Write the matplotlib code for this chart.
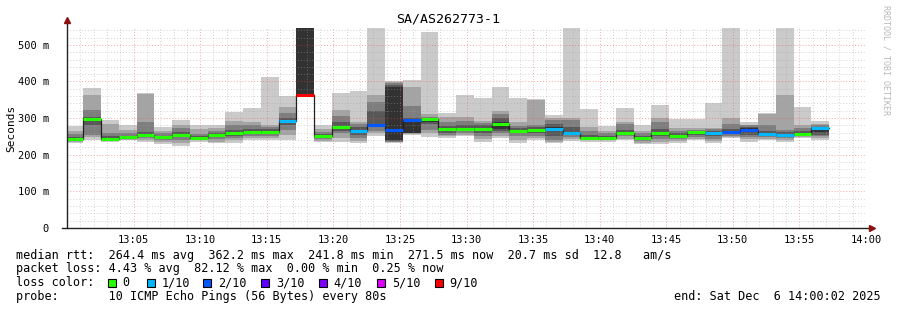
import matplotlib
matplotlib.use('Agg')
import matplotlib.pyplot as plt
from matplotlib.patches import Rectangle
from matplotlib.ticker import MultipleLocator, FixedLocator
import numpy as np

# ---- data ----
title = 'SA/AS262773-1'
first_start = -0.11          # minutes after 13:00 of the first 80s sample
step_min = 80 / 60.0

# sorted ping rtts (ms) per sample; 600 = off the top of the graph
ping1 = [231, 240, 236, 239, 236, 229, 225, 236, 231, 231, 240, 240, 240, 363, 234, 236, 231, 250, 232, 254, 248, 245,
         250, 236, 245, 231, 240, 231, 238, 236, 236, 239, 229, 229, 233, 239, 233, 245, 236, 240, 234, 245, 240]
ping2 = [234, 248, 238, 241, 240, 234, 233, 239, 236, 240, 245, 246, 255, 363, 238, 245, 238, 258, 234, 256, 258, 250,
         255, 242, 250, 240, 245, 236, 242, 240, 239, 244, 233, 236, 238, 243, 238, 248, 242, 244, 240, 248, 245]
ping3 = [237, 254, 240, 244, 245, 240, 240, 242, 242, 246, 250, 252, 268, 363, 242, 258, 245, 265, 236, 258, 268, 254,
         260, 250, 258, 250, 250, 240, 248, 244, 242, 250, 238, 244, 242, 248, 244, 252, 248, 248, 245, 250, 250]
ping4 = [239, 280, 242, 246, 250, 245, 248, 244, 248, 252, 256, 258, 280, 363, 246, 265, 255, 275, 238, 259, 284, 258,
         264, 258, 265, 258, 258, 252, 255, 246, 244, 255, 242, 250, 246, 254, 250, 256, 255, 252, 250, 253, 255]
ping5 = [241, 295, 243, 248, 252, 247, 252, 245, 252, 257, 260, 262, 288, 363, 249, 272, 262, 280, 240, 260, 290, 264,
         268, 265, 270, 263, 264, 265, 258, 247, 246, 258, 245, 256, 250, 259, 256, 258, 262, 255, 252, 255, 262]
ping6 = [243, 301, 244, 249, 254, 249, 256, 246, 255, 261, 264, 265, 294, 600, 253, 278, 268, 284, 386, 292, 293, 272,
         272, 273, 290, 267, 270, 275, 262, 249, 248, 262, 247, 260, 252, 263, 262, 262, 272, 259, 256, 259, 268]
ping7 = [248, 304, 250, 252, 262, 252, 262, 250, 258, 268, 270, 270, 300, 600, 256, 290, 275, 320, 390, 300, 300, 278,
         280, 280, 300, 272, 276, 284, 275, 255, 252, 268, 252, 270, 258, 266, 266, 270, 276, 265, 262, 264, 275]
ping8 = [256, 322, 260, 258, 290, 258, 274, 256, 264, 280, 280, 276, 314, 600, 262, 305, 285, 345, 395, 333, 304, 290,
         292, 288, 310, 278, 281, 295, 295, 265, 258, 285, 258, 290, 265, 268, 270, 285, 280, 280, 268, 272, 280]
ping9 = [265, 363, 284, 268, 365, 266, 280, 270, 272, 293, 290, 281, 330, 600, 270, 322, 290, 363, 398, 386, 310, 302,
         302, 292, 320, 290, 350, 300, 300, 277, 265, 290, 266, 301, 272, 272, 272, 301, 282, 312, 363, 281, 283]
ping10 = [279, 382, 295, 281, 369, 276, 295, 281, 281, 317, 328, 413, 359, 600, 281, 368, 373, 600, 402, 404, 535, 315,
          362, 356, 384, 356, 352, 309, 600, 325, 279, 327, 281, 336, 297, 297, 342, 600, 290, 315, 600, 331, 292]

median = [242, 298, 243, 248, 253, 248, 254, 245, 254, 259, 262, 263, 292, 363, 251, 275, 266, 282, 267, 296, 298, 270,
          270, 270, 283, 265, 267, 270, 260, 247, 247, 260, 246, 258, 251, 261, 259, 261, 268, 257, 254, 257, 272]
# lost pings out of 10
loss = [0, 0, 0, 0, 0, 0, 0, 0, 0, 0, 0, 0, 1, 9, 0, 0, 1, 2, 2, 2, 0, 0,
        0, 0, 0, 0, 0, 1, 1, 0, 0, 0, 0, 0, 0, 0, 1, 2, 2, 1, 1, 0, 1]

loss_keys = [0, 1, 2, 3, 4, 5, 9]
loss_labels = ['0', '1/10', '2/10', '3/10', '4/10', '5/10', '9/10']
loss_colors = ['#26ff00', '#00b8ff', '#0059ff', '#5e00ff', '#7e00ff', '#dd00ff', '#ff0000']
smoke_colors = ['#cacaca', '#a4a4a4', '#7e7e7e', '#585858', '#323232']

tick_pos = [5, 10, 15, 20, 25, 30, 35, 40, 45, 50, 55, 60]
tick_lbl = ['13:05', '13:10', '13:15', '13:20', '13:25', '13:30', '13:35', '13:40', '13:45', '13:50', '13:55', '14:00']

legend_lines = [
    'median rtt:  264.4 ms avg  362.2 ms max  241.8 ms min  271.5 ms now  20.7 ms sd  12.8   am/s',
    'packet loss: 4.43 % avg  82.12 % max  0.00 % min  0.25 % now',
    'loss color:',
    'probe:       10 ICMP Echo Pings (56 Bytes) every 80s',
]
end_text = 'end: Sat Dec  6 14:00:02 2025'

# ---- plot ----
plt.rcParams['font.family'] = ['DejaVu Sans Mono']
W, H = 897, 310
fig = plt.figure(figsize=(W / 100, H / 100), dpi=100)
fig.patch.set_facecolor('white')
ax = fig.add_axes([67 / W, 1 - 228 / H, 799 / W, 200 / H])

n = len(median)
edges = first_start + step_min * np.arange(n + 1)
pings = np.array([ping1, ping2, ping3, ping4, ping5, ping6, ping7, ping8, ping9, ping10], dtype=float)

# smoke: band i spans ping(i) .. ping(11-i), darker toward the centre
for i in range(5):
    lo = pings[i]
    hi = pings[9 - i]
    ax.bar(edges[:-1], hi - lo, bottom=lo, width=step_min, align='edge',
           color=smoke_colors[i], linewidth=0, antialiased=False, zorder=1)

med = np.array(median, dtype=float)
ax.step(edges, np.append(med, med[-1]), where='post', color='#202020', lw=0.9, zorder=3)
cmap = dict(zip(loss_keys, loss_colors))
ax.hlines(med, edges[:-1], edges[1:], colors=[cmap[l] for l in loss], lw=2.2, zorder=4)

ax.set_xlim(0, 60)
ax.set_ylim(0, 546)

ax.xaxis.set_major_locator(FixedLocator(tick_pos))
ax.set_xticklabels(tick_lbl)
ax.xaxis.set_minor_locator(MultipleLocator(1))
ax.yaxis.set_minor_locator(MultipleLocator(20))
ax.set_yticks([0, 100, 200, 300, 400, 500])
ax.set_yticklabels(['0', '100 m', '200 m', '300 m', '400 m', '500 m'])

# rrdtool draws its grid semi-transparent over the graph
ax.set_axisbelow(False)
ax.grid(which='minor', color='#a0a0a0', alpha=0.45, ls=(0, (1, 2)), lw=0.7)
ax.grid(which='major', color='#e85050', alpha=0.5, ls=(0, (1, 2)), lw=0.7)
ax.tick_params(which='both', length=0, labelsize=7.5)
ax.tick_params(axis='x', pad=5)
ax.tick_params(axis='y', pad=13)

for s in ax.spines.values():
    s.set_visible(False)
# axes with arrows
ax.plot([-0.4, 60.3], [0, 0], color='#222222', lw=1, clip_on=False, zorder=5)
ax.plot([0, 0], [0, 565], color='#222222', lw=1, clip_on=False, zorder=5)
ax.plot([60.45], [0], marker='>', ms=4, color='#8b1010', clip_on=False, zorder=6)
ax.plot([0], [568], marker='^', ms=4, color='#8b1010', clip_on=False, zorder=6)

fig.text(448 / W, 1 - 19 / H, title, ha='center', va='center', fontsize=9.5)
fig.text(11 / W, 1 - 128 / H, 'Seconds', rotation=90, ha='center', va='center', fontsize=8)
fig.text(886 / W, 1 - 5 / H, 'RRDTOOL / TOBI OETIKER', rotation=270, ha='center', va='top',
         fontsize=6, color='#b8b8b8')

line_y = [255, 268.5, 282.5, 296.5]
for txt, y in zip(legend_lines, line_y):
    fig.text(16 / W, 1 - y / H, txt, ha='left', va='center', fontsize=8.5)
fig.text(881 / W, 1 - line_y[3] / H, end_text, ha='right', va='center', fontsize=8.5)

sq_x = [108, 146.7, 203, 261, 319, 377, 435]
for x, c, lbl in zip(sq_x, loss_colors, loss_labels):
    fig.patches.append(Rectangle((x / W, 1 - (line_y[2] + 4) / H), 8 / W, 8 / H,
                                 transform=fig.transFigure, facecolor=c, edgecolor='black', lw=0.8))
    fig.text((x + 14.7) / W, 1 - line_y[2] / H, lbl, ha='left', va='center', fontsize=8.5)

fig.savefig('out.png', dpi=100)
